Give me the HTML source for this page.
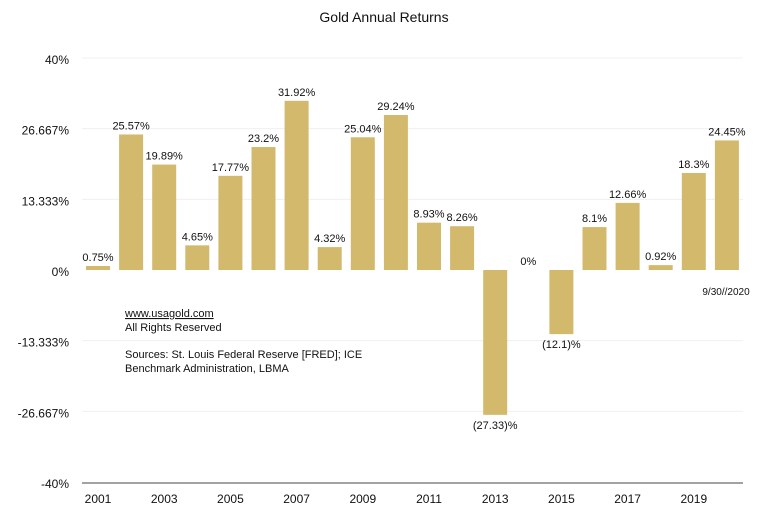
<!DOCTYPE html>
<html><head><meta charset="utf-8"><style>
body{margin:0;background:#fff;}
svg{display:block;font-family:"Liberation Sans",sans-serif;}
</style></head><body>
<svg id="chart" width="768" height="517" viewBox="0 0 768 517">
<text x="384" y="22" text-anchor="middle" font-size="14" fill="#111">Gold Annual Returns</text>
<g id="grid"></g><g id="yaxis"></g><g id="bars"></g><g id="xaxis"></g>
<g font-size="11" fill="#111">
<text x="125" y="317" text-decoration="underline">www.usagold.com</text>
<text x="125" y="331">All Rights Reserved</text>
<text x="125" y="358">Sources:  St. Louis Federal Reserve [FRED]; ICE</text>
<text x="125" y="372">Benchmark Administration, LBMA</text>
</g>
<text x="726" y="295" text-anchor="middle" font-size="10" fill="#111">9/30//2020</text>
</svg>
<script>
const years=[2001,2002,2003,2004,2005,2006,2007,2008,2009,2010,2011,2012,2013,2014,2015,2016,2017,2018,2019,2020];
const returns=[0.75,25.57,19.89,4.65,17.77,23.2,31.92,4.32,25.04,29.24,8.93,8.26,-27.33,0,-12.1,8.1,12.66,0.92,18.3,24.45];
const valueLabels=["0.75%","25.57%","19.89%","4.65%","17.77%","23.2%","31.92%","4.32%","25.04%","29.24%","8.93%","8.26%","(27.33)%","0%","(12.1)%","8.1%","12.66%","0.92%","18.3%","24.45%"];
const yTicks=[40,26.667,13.333,0,-13.333,-26.667,-40];
const yTickLabels=["40%","26.667%","13.333%","0%","-13.333%","-26.667%","-40%"];
const xTickYears=[2001,2003,2005,2007,2009,2011,2013,2015,2017,2019];
const NS="http://www.w3.org/2000/svg";
const y=v=>270-v*5.3;
const x=yr=>86+(yr-2001)*33.1;
const bw=24;
function mk(tag,attrs,parent){const e=document.createElementNS(NS,tag);for(const k in attrs)e.setAttribute(k,attrs[k]);parent.appendChild(e);return e;}
const grid=document.getElementById('grid'),ya=document.getElementById('yaxis'),bars=document.getElementById('bars'),xa=document.getElementById('xaxis');
yTicks.forEach((t,i)=>{
 if(t!==-40&&t!==0){const g=mk('line',{x1:82,x2:743,y1:y(t),y2:y(t),stroke:'#f0f0f0','stroke-width':1},grid);
 
 }
 const l=mk('text',{x:69,y:y(t)+6,'text-anchor':'end','font-size':12,fill:'#111'},ya);
 l.textContent=yTickLabels[i];
 
 
});
years.forEach((yr,i)=>{
 const v=returns[i];const top=Math.min(y(v),y(0));const h=Math.abs(y(v)-y(0));
 const r=mk('rect',{x:x(yr),y:top,width:bw,height:Math.max(h,0),fill:'#d3b96c'},bars);
 
 
 const ly=v>=0?y(v)-5:y(v)+14;
 const t=mk('text',{x:x(yr)+bw/2,y:(v===0?y(0)-5:ly),'text-anchor':'middle','font-size':11,fill:'#111'},bars);
 t.textContent=valueLabels[i];
 
 
});
const ax=mk('line',{x1:82,x2:743,y1:483,y2:483,stroke:'#444','stroke-width':1},xa);


xTickYears.forEach(yr=>{
 const t=mk('text',{x:x(yr)+bw/2,y:503,'text-anchor':'middle','font-size':12,fill:'#111'},xa);
 t.textContent=yr;
 
 
});
</script>
</body></html>
